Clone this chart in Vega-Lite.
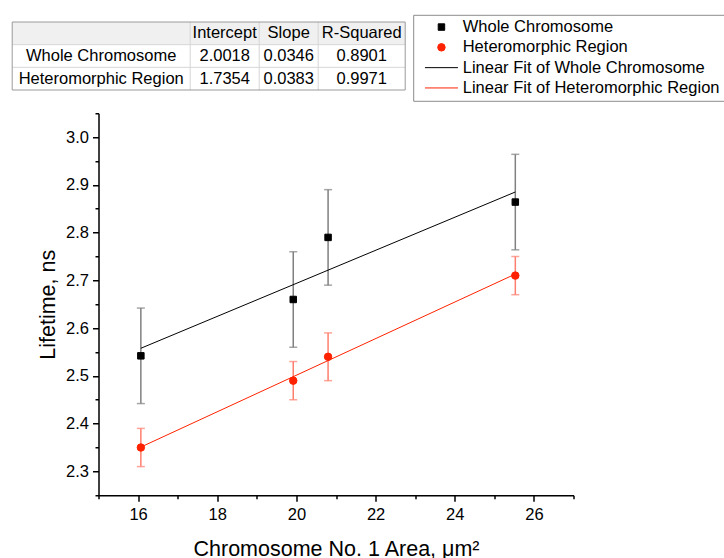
{
  "$schema": "https://vega.github.io/schema/vega-lite/v6.json",
  "padding": {"left": 11.5, "top": 12.5, "right": 0, "bottom": 0},
  "background": "white",
  "config": {
    "font": "Liberation Sans",
    "view": {"stroke": null},
    "axis": {"grid": false, "domainColor": "black", "tickColor": "black", "labelColor": "black", "titleColor": "black", "labelFont": "Liberation Sans", "titleFont": "Liberation Sans", "labelFontSize": 16.5, "titleFontSize": 21.5, "titleFontWeight": "normal", "domainWidth": 1.5, "tickWidth": 1.5},
    "legend": {"labelFont": "Liberation Sans", "labelFontSize": 16.5, "labelColor": "black", "labelLimit": 400, "padding": 4, "symbolOffset": 16, "labelOffset": 13, "rowPadding": 3.3, "strokeColor": "#8c8c8c", "fillColor": "white", "symbolStrokeWidth": 1}
  },
  "datasets": {
    "pts": [
      {"series": "Whole Chromosome", "x": 16.07, "y": 2.542, "lo": 2.442, "hi": 2.642},
      {"series": "Whole Chromosome", "x": 19.92, "y": 2.66, "lo": 2.56, "hi": 2.76},
      {"series": "Whole Chromosome", "x": 20.8, "y": 2.79, "lo": 2.69, "hi": 2.89},
      {"series": "Whole Chromosome", "x": 25.53, "y": 2.864, "lo": 2.764, "hi": 2.964},
      {"series": "Heteromorphic Region", "x": 16.07, "y": 2.35, "lo": 2.31, "hi": 2.39},
      {"series": "Heteromorphic Region", "x": 19.92, "y": 2.49, "lo": 2.45, "hi": 2.53},
      {"series": "Heteromorphic Region", "x": 20.8, "y": 2.54, "lo": 2.49, "hi": 2.59},
      {"series": "Heteromorphic Region", "x": 25.53, "y": 2.71, "lo": 2.67, "hi": 2.75}
    ],
    "fits": [
      {"series": "Linear Fit of Whole Chromosome", "x": 16.07, "y": 2.5578},
      {"series": "Linear Fit of Whole Chromosome", "x": 25.53, "y": 2.8851},
      {"series": "Linear Fit of Heteromorphic Region", "x": 16.07, "y": 2.3509},
      {"series": "Linear Fit of Heteromorphic Region", "x": 25.53, "y": 2.7132}
    ],
    "cells": [
      {"r": 0.5, "c": 1.5, "text": "Intercept"},
      {"r": 0.5, "c": 2.5, "text": "Slope"},
      {"r": 0.5, "c": 3.5, "text": "R-Squared"},
      {"r": 1.5, "c": 0.5, "text": "Whole Chromosome"},
      {"r": 1.5, "c": 1.5, "text": "2.0018"},
      {"r": 1.5, "c": 2.5, "text": "0.0346"},
      {"r": 1.5, "c": 3.5, "text": "0.8901"},
      {"r": 2.5, "c": 0.5, "text": "Heteromorphic Region"},
      {"r": 2.5, "c": 1.5, "text": "1.7354"},
      {"r": 2.5, "c": 2.5, "text": "0.0383"},
      {"r": 2.5, "c": 3.5, "text": "0.9971"}
    ]
  },
  "spacing": 21.75,
  "vconcat": [
    {
      "width": 306.7,
      "height": 77.5,
      "layer": [
        {
          "data": {"values": [{"c": 0, "c2": 4, "r": 0, "r2": 1}]},
          "mark": {"type": "rect", "fill": "#f0f0f0", "strokeWidth": 0},
          "encoding": {
            "x": {"field": "c", "type": "quantitative", "scale": {"domain": [0, 1, 2, 3, 4], "range": [-86.3, 91.7, 160.7, 219.7, 306.7], "nice": false, "zero": false}, "axis": null},
            "x2": {"field": "c2"},
            "y": {"field": "r", "type": "quantitative", "scale": {"domain": [0, 1, 2, 3], "range": [9.5, 32.17, 54.83, 77.5], "nice": false, "zero": false}, "axis": null},
            "y2": {"field": "r2"}
          }
        },
        {
          "data": {"values": [{"c": 1, "r": 0, "r2": 3}, {"c": 2, "r": 0, "r2": 3}, {"c": 3, "r": 0, "r2": 3}]},
          "mark": {"type": "rule", "color": "#d6d6d6", "strokeWidth": 1},
          "encoding": {
            "x": {"field": "c", "type": "quantitative", "axis": null},
            "y": {"field": "r", "type": "quantitative", "axis": null},
            "y2": {"field": "r2"}
          }
        },
        {
          "data": {"values": [{"c": 0, "c2": 4, "r": 1}, {"c": 0, "c2": 4, "r": 2}]},
          "mark": {"type": "rule", "color": "#d6d6d6", "strokeWidth": 1},
          "encoding": {
            "x": {"field": "c", "type": "quantitative", "axis": null},
            "x2": {"field": "c2"},
            "y": {"field": "r", "type": "quantitative", "axis": null}
          }
        },
        {
          "data": {"values": [{"c": 0, "c2": 4, "r": 0, "r2": 3}]},
          "mark": {"type": "rect", "fill": null, "fillOpacity": 0, "stroke": "#9a9a9a", "strokeWidth": 1},
          "encoding": {
            "x": {"field": "c", "type": "quantitative", "axis": null},
            "x2": {"field": "c2"},
            "y": {"field": "r", "type": "quantitative", "axis": null},
            "y2": {"field": "r2"}
          }
        },
        {
          "data": {"name": "cells"},
          "mark": {"type": "text", "fontSize": 16.5, "color": "black", "baseline": "middle", "align": "center", "font": "Liberation Sans"},
          "encoding": {
            "x": {"field": "c", "type": "quantitative", "axis": null},
            "y": {"field": "r", "type": "quantitative", "axis": null},
            "text": {"field": "text"}
          }
        }
      ]
    },
    {
      "width": 475,
      "height": 382,
      "resolve": {"axis": {"x": "independent", "y": "independent"}},
      "layer": [
        {
          "layer": [
            {
              "data": {"name": "pts"},
              "transform": [{"filter": "datum.series === 'Whole Chromosome'"}],
              "mark": {"type": "rule", "color": "#808080", "strokeWidth": 1.5},
              "encoding": {
                "x": {"field": "x", "type": "quantitative", "scale": {"domain": [15, 27], "nice": false, "zero": false},
                  "axis": {"orient": "bottom", "title": "Chromosome No. 1 Area, μm²", "values": [16, 18, 20, 22, 24, 26], "format": "d", "tickSize": 6, "labelPadding": 5.5, "titlePadding": 15}},
                "y": {"field": "lo", "type": "quantitative", "scale": {"domain": [2.25, 3.05], "nice": false, "zero": false},
                  "axis": {"orient": "left", "title": "Lifetime, ns", "values": [2.3, 2.4, 2.5, 2.6, 2.7, 2.8, 2.9, 3.0], "format": ".1f", "tickSize": 6, "labelPadding": 4, "titlePadding": 6}},
                "y2": {"field": "hi"}
              }
            },
            {
              "data": {"name": "pts"},
              "transform": [{"filter": "datum.series === 'Whole Chromosome'"}],
              "mark": {"type": "tick", "orient": "horizontal", "size": 8, "thickness": 1.5, "color": "#808080"},
              "encoding": {"x": {"field": "x", "type": "quantitative"}, "y": {"field": "lo", "type": "quantitative"}}
            },
            {
              "data": {"name": "pts"},
              "transform": [{"filter": "datum.series === 'Whole Chromosome'"}],
              "mark": {"type": "tick", "orient": "horizontal", "size": 8, "thickness": 1.5, "color": "#808080"},
              "encoding": {"x": {"field": "x", "type": "quantitative"}, "y": {"field": "hi", "type": "quantitative"}}
            },
            {
              "data": {"name": "pts"},
              "transform": [{"filter": "datum.series === 'Heteromorphic Region'"}],
              "mark": {"type": "rule", "color": "#ff7f6e", "strokeWidth": 1.5},
              "encoding": {"x": {"field": "x", "type": "quantitative"}, "y": {"field": "lo", "type": "quantitative"}, "y2": {"field": "hi"}}
            },
            {
              "data": {"name": "pts"},
              "transform": [{"filter": "datum.series === 'Heteromorphic Region'"}],
              "mark": {"type": "tick", "orient": "horizontal", "size": 8, "thickness": 1.5, "color": "#ff7f6e"},
              "encoding": {"x": {"field": "x", "type": "quantitative"}, "y": {"field": "lo", "type": "quantitative"}}
            },
            {
              "data": {"name": "pts"},
              "transform": [{"filter": "datum.series === 'Heteromorphic Region'"}],
              "mark": {"type": "tick", "orient": "horizontal", "size": 8, "thickness": 1.5, "color": "#ff7f6e"},
              "encoding": {"x": {"field": "x", "type": "quantitative"}, "y": {"field": "hi", "type": "quantitative"}}
            },
            {
              "data": {"name": "fits"},
              "mark": {"type": "line", "strokeWidth": 1},
              "encoding": {
                "x": {"field": "x", "type": "quantitative"},
                "y": {"field": "y", "type": "quantitative"},
                "stroke": {"field": "series", "type": "nominal",
                  "scale": {"domain": ["Whole Chromosome", "Heteromorphic Region", "Linear Fit of Whole Chromosome", "Linear Fit of Heteromorphic Region"], "range": ["#000000", "#ff2200", "#000000", "#ff2200"]},
                  "legend": {"title": null, "orient": "none", "legendX": 314.7, "legendY": 2.3}}
              }
            },
            {
              "data": {"name": "pts"},
              "mark": {"type": "point", "filled": true, "opacity": 1, "strokeWidth": 1},
              "encoding": {
                "x": {"field": "x", "type": "quantitative"},
                "y": {"field": "y", "type": "quantitative"},
                "stroke": {"field": "series", "type": "nominal"},
                "fill": {"field": "series", "type": "nominal",
                  "scale": {"domain": ["Whole Chromosome", "Heteromorphic Region", "Linear Fit of Whole Chromosome", "Linear Fit of Heteromorphic Region"], "range": ["#000000", "#ff2200", "#000000", "#ff2200"]},
                  "legend": {"title": null, "orient": "none", "legendX": 314.7, "legendY": 2.3}},
                "shape": {"field": "series", "type": "nominal",
                  "scale": {"domain": ["Whole Chromosome", "Heteromorphic Region", "Linear Fit of Whole Chromosome", "Linear Fit of Heteromorphic Region"], "range": ["square", "circle", "M-3.3,0H3.3", "M-3.3,0H3.3"]},
                  "legend": {"title": null, "orient": "none", "legendX": 314.7, "legendY": 2.3}},
                "size": {"field": "series", "type": "nominal",
                  "scale": {"type": "ordinal", "domain": ["Whole Chromosome", "Heteromorphic Region", "Linear Fit of Whole Chromosome", "Linear Fit of Heteromorphic Region"], "range": [42, 56, 100, 100]},
                  "legend": {"title": null, "orient": "none", "legendX": 314.7, "legendY": 2.3}}
              }
            }
          ]
        },
        {
          "data": {"values": [{"x": 15, "y": 2.25}]},
          "mark": {"type": "point", "opacity": 0},
          "encoding": {
            "x": {"field": "x", "type": "quantitative", "scale": {"domain": [15, 27], "nice": false, "zero": false},
              "axis": {"orient": "bottom", "title": null, "labels": false, "domain": false, "values": [15, 17, 19, 21, 23, 25, 27], "tickSize": 3.5}},
            "y": {"field": "y", "type": "quantitative", "scale": {"domain": [2.25, 3.05], "nice": false, "zero": false},
              "axis": {"orient": "left", "title": null, "labels": false, "domain": false, "values": [2.25, 2.35, 2.45, 2.55, 2.65, 2.75, 2.85, 2.95, 3.05], "tickSize": 3.5}}
          }
        }
      ]
    }
  ]
}
